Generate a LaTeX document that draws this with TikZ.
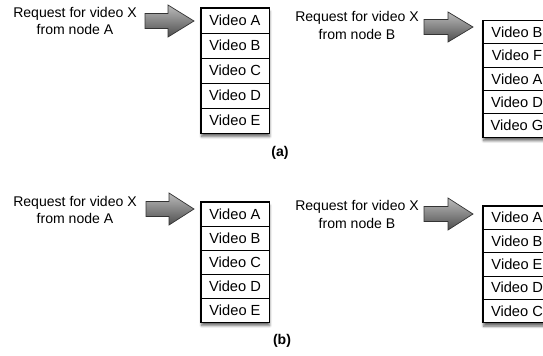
\documentclass[tikz,border=0pt]{standalone}
\usepackage{fontspec}
\setmainfont{Liberation Sans}
\definecolor{arrowlight}{HTML}{BBBBBB}
\definecolor{arrowdark}{HTML}{4E4E4E}
\definecolor{arrowedge}{HTML}{333333}
\usetikzlibrary{positioning,fit,backgrounds,shadows.blur}

\begin{document}
\begin{tikzpicture}[x=0.03cm,y=-0.03cm,font=\fontsize{12}{15}\selectfont]
        \tikzset{
            videocell/.style={
                draw=black,
                fill=white,
                line width=0.6pt,
                minimum width=2.04cm,
                minimum height=#1,
                inner sep=0pt,
                outer sep=0pt,
                font=\fontsize{12.5}{15}\selectfont
            },
            videocell/.default=0.72cm,
            videostack/.style={
                draw=black,
                fill=white,
                line width=0.9pt,
                inner sep=0pt,
                blur shadow={shadow xshift=0.5pt,shadow yshift=-3pt,
                    shadow blur steps=6,shadow opacity=60}
            },
            request/.style={align=center,inner sep=0pt},
            reqarrow/.style={
                draw=arrowedge,
                line width=0.6pt,
                top color=arrowlight,
                bottom color=arrowdark
            },
            panellabel/.style={font=\fontsize{12}{15}\selectfont\bfseries}
        }
        \useasboundingbox (0,0) rectangle (543,355);

        % (a): request from node A
        \node[request] (reqtopA) at (75,21) {Request for video X\\from node A};
        \coordinate (arrtopA) at (145,21);
        \path[reqarrow] (arrtopA) ++(0,-7.5) -- ++(23,0) -- ++(0,-8.5)
            -- ++(26,16) -- ++(-26,16) -- ++(0,-8.5) -- ++(-23,0) -- cycle;

        \node[videocell=0.75cm,anchor=north] (topA1) at (235,8) {Video A};
        \node[videocell=0.75cm,below=0pt of topA1] (topA2) {Video B};
        \node[videocell=0.75cm,below=0pt of topA2] (topA3) {Video C};
        \node[videocell=0.75cm,below=0pt of topA3] (topA4) {Video D};
        \node[videocell=0.75cm,below=0pt of topA4] (topA5) {Video E};

        % (a): request from node B
        \node[request] (reqtopB) at (357,25.5) {Request for video X\\from node B};
        \coordinate (arrtopB) at (424,27);
        \path[reqarrow] (arrtopB) ++(0,-7.5) -- ++(24,0) -- ++(0,-7.5)
            -- ++(25,15) -- ++(-25,15) -- ++(0,-7.5) -- ++(-24,0) -- cycle;

        \node[videocell=0.70cm,anchor=north] (topB1) at (517,20.5) {Video B};
        \node[videocell=0.70cm,below=0pt of topB1] (topB2) {Video F};
        \node[videocell=0.70cm,below=0pt of topB2] (topB3) {Video A};
        \node[videocell=0.70cm,below=0pt of topB3] (topB4) {Video D};
        \node[videocell=0.70cm,below=0pt of topB4] (topB5) {Video G};

        \node[panellabel] (labela) at (280,153) {(a)};

        % (b): request from node A
        \node[request] (reqbotA) at (75,210) {Request for video X\\from node A};
        \coordinate (arrbotA) at (146,209);
        \path[reqarrow] (arrbotA) ++(0,-7.5) -- ++(23,0) -- ++(0,-8.5)
            -- ++(25,16) -- ++(-25,16) -- ++(0,-8.5) -- ++(-23,0) -- cycle;

        \node[videocell=0.72cm,anchor=north] (botA1) at (235,202) {Video A};
        \node[videocell=0.72cm,below=0pt of botA1] (botA2) {Video B};
        \node[videocell=0.72cm,below=0pt of botA2] (botA3) {Video C};
        \node[videocell=0.72cm,below=0pt of botA3] (botA4) {Video D};
        \node[videocell=0.72cm,below=0pt of botA4] (botA5) {Video E};

        % (b): request from node B
        \node[request] (reqbotB) at (357,214.5) {Request for video X\\from node B};
        \coordinate (arrbotB) at (424,214);
        \path[reqarrow] (arrbotB) ++(0,-7.5) -- ++(24,0) -- ++(0,-8.5)
            -- ++(25,16) -- ++(-25,16) -- ++(0,-8.5) -- ++(-24,0) -- cycle;

        \node[videocell=0.70cm,anchor=north] (botB1) at (517,206) {Video A};
        \node[videocell=0.70cm,below=0pt of botB1] (botB2) {Video B};
        \node[videocell=0.70cm,below=0pt of botB2] (botB3) {Video E};
        \node[videocell=0.70cm,below=0pt of botB3] (botB4) {Video D};
        \node[videocell=0.70cm,below=0pt of botB4] (botB5) {Video C};

        \node[panellabel] (labelb) at (282,341) {(b)};

        % frames and shadows behind the cells
        \begin{scope}[on background layer]
            \node[videostack,fit=(topA1)(topA5)] (stacktopA) {};
            \node[videostack,fit=(topB1)(topB5)] (stacktopB) {};
            \node[videostack,fit=(botA1)(botA5)] (stackbotA) {};
            \node[videostack,fit=(botB1)(botB5)] (stackbotB) {};
        \end{scope}
    \end{tikzpicture}
\end{document}
